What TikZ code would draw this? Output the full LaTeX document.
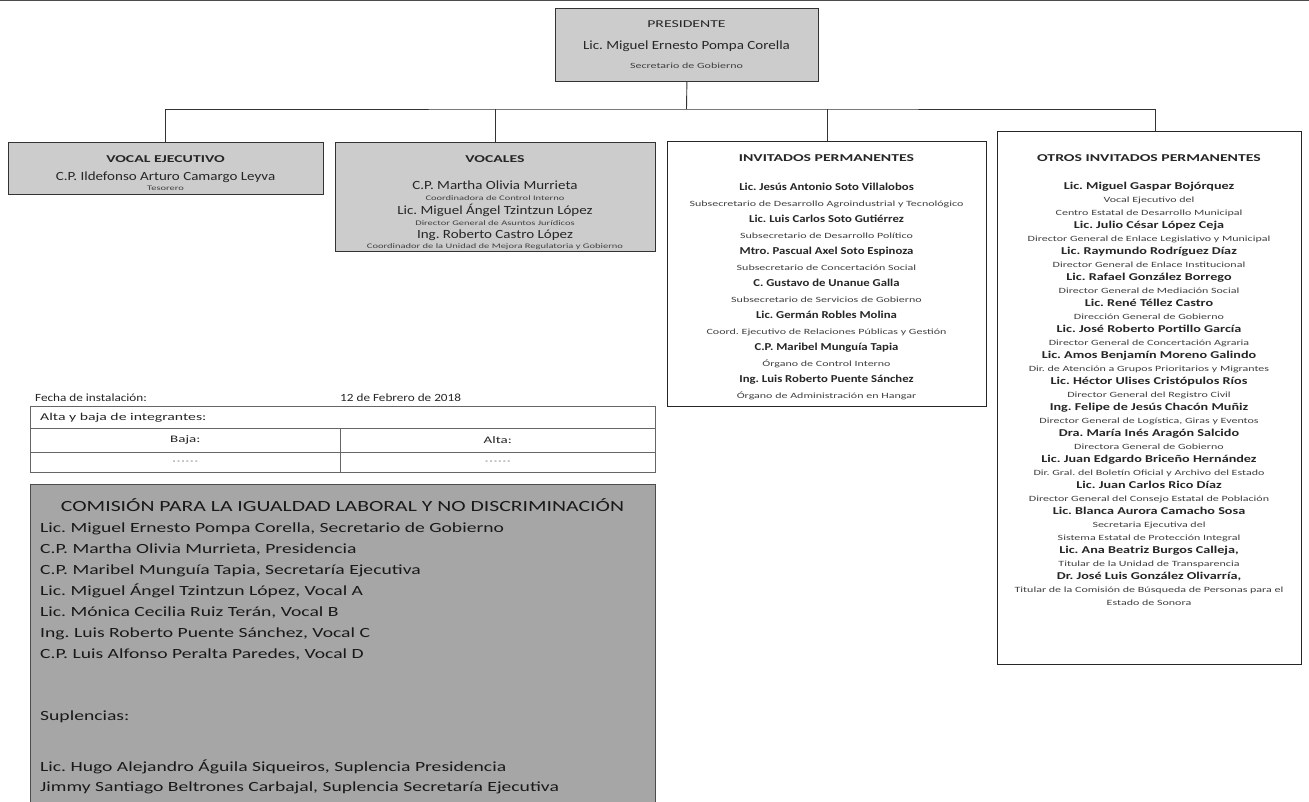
\documentclass[tikz,border=0pt]{standalone}
\usepackage{fontspec}
\setmainfont{Carlito}[FakeStretch=1.2]
\newfontfamily\rolefont{Carlito}[FakeStretch=1.5]
\newfontfamily\widefont{Carlito}[FakeStretch=1.5]
\newfontfamily\comfont{Carlito}[FakeStretch=1.4]
\newfontfamily\otfont{Carlito}[FakeStretch=1.35]
\newcommand\nmt[1]{{\fontsize{10.6}{12}\selectfont\bfseries #1}}
\newcommand\onm[1]{{\otfont\fontsize{10.5}{12}\selectfont\bfseries #1}}
\newcommand\rolet[1]{{\color{black!75}\rolefont\fontsize{8}{9}\selectfont #1}}
\newcommand\roles[1]{{\color{black!75}\rolefont\fontsize{7}{8}\selectfont #1}}
\newcommand\gnm[1]{{\fontsize{12.5}{14}\selectfont #1}}
\definecolor{boxgray}{gray}{0.80}
\definecolor{comgray}{gray}{0.65}
\definecolor{ink}{gray}{0.15}
\frenchspacing
\begin{document}
\begin{tikzpicture}[x=1pt,y=-1pt,
  graybox/.style={draw=black!80, fill=boxgray, line width=0.8pt, inner sep=0pt, anchor=north west},
  whitebox/.style={draw=black!85, fill=white, line width=1pt, inner sep=0pt, anchor=north west},
  cell/.style={draw=black!60, line width=0.6pt, inner sep=0pt, anchor=north west},
  conn/.style={draw=black!80, line width=0.9pt},
  ttl/.style={anchor=base, inner sep=0pt, text=ink, font=\widefont\fontsize{10.5}{12}\selectfont\bfseries},
  txt/.style={anchor=base, inner sep=0pt, text=ink},
  ltxt/.style={anchor=base west, inner sep=0pt, text=ink},
  comtxt/.style={anchor=base west, inner sep=0pt, text=black!90, font=\comfont\fontsize{14}{16}\selectfont}]
\useasboundingbox (0,0) rectangle (1309,801);
\fill[white] (0,0) rectangle (1309,801);
\draw[black!70, line width=1.2pt] (0,0.6) -- (1309,0.6);

% ---------- boxes ----------
\node[graybox, minimum width=263, minimum height=73] (pres) at (555,8) {};
\node[graybox, minimum width=315, minimum height=52] (ve) at (8,142) {};
\node[graybox, minimum width=320, minimum height=109] (vo) at (335,142) {};
\node[whitebox, minimum width=319, minimum height=265] (inv) at (667,141) {};
\node[whitebox, minimum width=304, minimum height=533] (ot) at (997,131) {};

% ---------- connectors ----------
\coordinate (bus) at (686.5,109);
\coordinate (otTop) at ([xshift=6pt]ot.north);
\draw[conn] (pres.south) -- (bus);
\draw[conn] (ve.north) |- (bus) -| (otTop);
\draw[conn] (vo.north) -- (vo.north |- bus);
\draw[conn] (inv.north) -- (inv.north |- bus);

% ---------- presidente ----------
\node[ttl, font=\widefont\fontsize{10.5}{12}\selectfont] (presT) at (686.5,27) {PRESIDENTE};
\node[txt] (presN) at (686.5,49) {\gnm{Lic. Miguel Ernesto Pompa Corella}};
\node[txt] (presR) at (686.5,68) {\rolet{Secretario de Gobierno}};

% ---------- vocal ejecutivo ----------
\node[ttl] (veT) at (165.5,162) {VOCAL EJECUTIVO};
\node[txt] (veN) at (165.5,180) {\gnm{C.P. Ildefonso Arturo Camargo Leyva}};
\node[txt] (veR) at (165.5,190) {\roles{Tesorero}};

% ---------- vocales ----------
\node[ttl] (voT) at (495,162) {VOCALES};
\node[txt] (vo1) at (495,189) {\gnm{C.P. Martha Olivia Murrieta}};
\node[txt] (vo2) at (495,200) {\roles{Coordinadora de Control Interno}};
\node[txt] (vo3) at (495,214) {\gnm{Lic. Miguel Ángel Tzintzun López}};
\node[txt] (vo4) at (495,225) {\roles{Director General de Asuntos Jurídicos}};
\node[txt] (vo5) at (495,238) {\gnm{Ing. Roberto Castro López}};
\node[txt] (vo6) at (495,248) {\roles{Coordinador de la Unidad de Mejora Regulatoria y Gobierno}};

% ---------- invitados permanentes ----------
\node[ttl] (invT) at (826.5,161) {INVITADOS PERMANENTES};
\foreach \t [count=\i from 0] in {
 {\nmt{Lic. Jesús Antonio Soto Villalobos}},
 {\rolet{Subsecretario de Desarrollo Agroindustrial y Tecnológico}},
 {\nmt{Lic. Luis Carlos Soto Gutiérrez}},
 {\rolet{Subsecretario de Desarrollo Político}},
 {\nmt{Mtro. Pascual Axel Soto Espinoza}},
 {\rolet{Subsecretario de Concertación Social}},
 {\nmt{C. Gustavo de Unanue Galla}},
 {\rolet{Subsecretario de Servicios de Gobierno}},
 {\nmt{Lic. Germán Robles Molina}},
 {\rolet{Coord. Ejecutivo de Relaciones Públicas y Gestión}},
 {\nmt{C.P. Maribel Munguía Tapia}},
 {\rolet{Órgano de Control Interno}},
 {\nmt{Ing. Luis Roberto Puente Sánchez}},
 {\rolet{Órgano de Administración en Hangar}}}
 \node[txt] (inv\i) at (826.5,190+16*\i) {\t};

% ---------- otros invitados permanentes ----------
\node[ttl] (otT) at (1149,161) {OTROS INVITADOS PERMANENTES};
\foreach \t [count=\i from 0] in {
 {\onm{Lic. Miguel Gaspar Bojórquez}},
 {\rolet{Vocal Ejecutivo del}},
 {\rolet{Centro Estatal de Desarrollo Municipal}},
 {\onm{Lic. Julio César López Ceja}},
 {\rolet{Director General de Enlace Legislativo y Municipal}},
 {\onm{Lic. Raymundo Rodríguez Díaz}},
 {\rolet{Director General de Enlace Institucional}},
 {\onm{Lic. Rafael González Borrego}},
 {\rolet{Director General de Mediación Social}},
 {\onm{Lic. René Téllez Castro}},
 {\rolet{Dirección General de Gobierno}},
 {\onm{Lic. José Roberto Portillo García}},
 {\rolet{Director General de Concertación Agraria}},
 {\onm{Lic. Amos Benjamín Moreno Galindo}},
 {\rolet{Dir. de Atención a Grupos Prioritarios y Migrantes}},
 {\onm{Lic. Héctor Ulises Cristópulos Ríos}},
 {\rolet{Director General del Registro Civil}},
 {\onm{Ing. Felipe de Jesús Chacón Muñiz}},
 {\rolet{Director General de Logística, Giras y Eventos}},
 {\onm{Dra. María Inés Aragón Salcido}},
 {\rolet{Directora General de Gobierno}},
 {\onm{Lic. Juan Edgardo Briceño Hernández}},
 {\rolet{Dir. Gral. del Boletín Oficial y Archivo del Estado}},
 {\onm{Lic. Juan Carlos Rico Díaz}},
 {\rolet{Director General del Consejo Estatal de Población}},
 {\onm{Lic. Blanca Aurora Camacho Sosa}},
 {\rolet{Secretaria Ejecutiva del}},
 {\rolet{Sistema Estatal de Protección Integral}},
 {\onm{Lic. Ana Beatriz Burgos Calleja,}},
 {\rolet{Titular de la Unidad de Transparencia}},
 {\onm{Dr. José Luis González Olivarría,}},
 {\rolet{Titular de la Comisión de Búsqueda de Personas para el}},
 {\rolet{Estado de Sonora}}}
 \node[txt] (ot\i) at (1149,189+13*\i) {\t};

% ---------- fecha y tabla ----------
\node[ltxt, font=\fontsize{11}{12}\selectfont] (fecha) at (35,401) {Fecha de instalación:};
\node[ltxt, font=\fontsize{11}{12}\selectfont] (fechaV) at (340,401) {12 de Febrero de 2018};
\node[cell, minimum width=625, minimum height=22] (r1) at (30,406) {};
\node[cell, minimum width=310, minimum height=24] (b1) at (30,428) {};
\node[cell, minimum width=315, minimum height=24] (a1) at (340,428) {};
\node[cell, minimum width=310, minimum height=20] (b2) at (30,452) {};
\node[cell, minimum width=315, minimum height=20] (a2) at (340,452) {};
\node[anchor=west, inner sep=0pt, text=ink, font=\widefont\fontsize{10.5}{12}\selectfont] (r1t) at ([xshift=10pt]r1.west) {Alta y baja de integrantes:};
\node[inner sep=0pt, text=ink, font=\widefont\fontsize{10}{12}\selectfont] (b1t) at (b1.center) {Baja:};
\node[inner sep=0pt, text=ink, font=\widefont\fontsize{10}{12}\selectfont] (a1t) at (a1.center) {Alta:};
\node[inner sep=0pt, text=ink, font=\fontsize{7}{8}\selectfont] (b2t) at (b2.center) {- - - - - -};
\node[inner sep=0pt, text=ink, font=\fontsize{7}{8}\selectfont] (a2t) at (a2.center) {- - - - - -};

% ---------- comision ----------
\node[draw=black!70, fill=comgray, line width=0.8pt, inner sep=0pt, anchor=north west,
      minimum width=625, minimum height=322] (com) at (30,484) {};
\node[anchor=base, inner sep=0pt, text=black!90, font=\comfont\fontsize{15.5}{17}\selectfont] (comT) at (342.5,511)
  {COMISIÓN PARA LA IGUALDAD LABORAL Y NO DISCRIMINACIÓN};
\node[comtxt] (c1) at (40,532) {Lic. Miguel Ernesto Pompa Corella, Secretario de Gobierno};
\node[comtxt] (c2) at (40,553) {C.P. Martha Olivia Murrieta, Presidencia};
\node[comtxt] (c3) at (40,574) {C.P. Maribel Munguía Tapia, Secretaría Ejecutiva};
\node[comtxt] (c4) at (40,595) {Lic. Miguel Ángel Tzintzun López, Vocal A};
\node[comtxt] (c5) at (40,616) {Lic. Mónica Cecilia Ruiz Terán, Vocal B};
\node[comtxt] (c6) at (40,637) {Ing. Luis Roberto Puente Sánchez, Vocal C};
\node[comtxt] (c7) at (40,658) {C.P. Luis Alfonso Peralta Paredes, Vocal D};
\node[comtxt] (c8) at (40,720) {Suplencias:};
\node[comtxt] (c9) at (40,771) {Lic. Hugo Alejandro Águila Siqueiros, Suplencia Presidencia};
\node[comtxt] (c10) at (40,791) {Jimmy Santiago Beltrones Carbajal, Suplencia Secretaría Ejecutiva};
\end{tikzpicture}
\end{document}
